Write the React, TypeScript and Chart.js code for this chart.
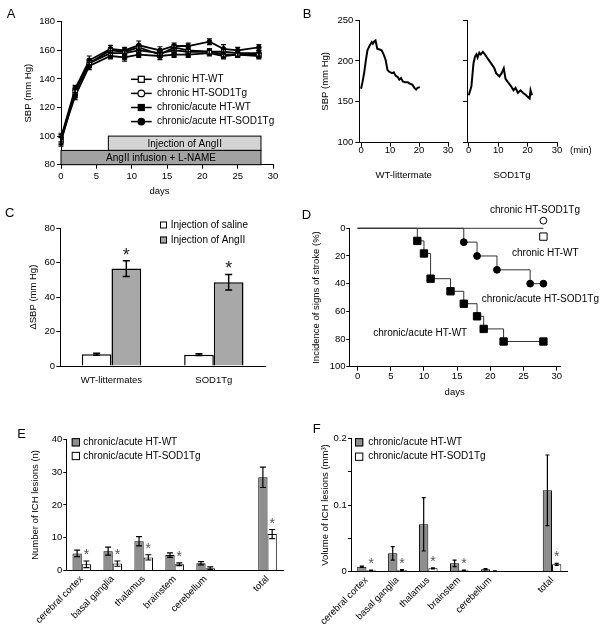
import React, { useEffect, useRef } from 'react';
import { Chart, registerables } from 'chart.js';

Chart.register(...registerables);

const FONT = '"Liberation Sans", Arial, Helvetica, sans-serif';
Chart.defaults.font.family = FONT;
Chart.defaults.font.size = 9.5;
Chart.defaults.color = '#000';

// ---------------- Panel A: SBP time course ----------------
const A_DAYS = [0, 2, 4, 7, 9, 11, 14, 16, 18, 21, 23, 25, 28];
const A_SERIES = ['chronic HT-WT', 'chronic HT-SOD1Tg', 'chronic/acute HT-WT', 'chronic/acute HT-SOD1Tg'];
const A_CHRONIC_WT = [96, 131, 151, 158, 158, 160, 158, 160, 159, 159, 157, 157, 157];
const A_CHRONIC_WT_SEM = [3, 2.5, 3, 2, 2, 2.5, 2, 2, 2, 2, 2, 2, 2];
const A_CHRONIC_TG = [97, 132, 151, 160, 159, 162, 157, 162, 160, 159, 159, 158, 158];
const A_CHRONIC_TG_SEM = [3, 2.5, 2.5, 2, 2, 2, 2, 2, 2, 2, 2, 2, 2];
const A_ACUTE_WT = [98, 128, 149, 156, 155, 157, 156, 157, 157, 158, 156, 157, 156];
const A_ACUTE_WT_SEM = [3, 2.5, 2.5, 2, 2.5, 2, 2.5, 2, 2, 2, 2, 2, 2];
const A_ACUTE_TG = [99, 133, 153, 161, 160, 163.5, 160, 163, 163, 166, 161, 160, 162];
const A_ACUTE_TG_SEM = [3, 2.5, 3, 2.5, 2, 3, 2.5, 2, 2, 2, 3, 2, 2];
const A_PERIOD_LABELS = ['Injection of AngII', 'AngII infusion + L-NAME'];
const A_PERIOD_START = [6.7, 0];
const A_PERIOD_END = [28.3, 28.3];
const A_PERIOD_LOW = [90, 80];
const A_PERIOD_HIGH = [100, 90];

// ---------------- Panel B: acute AngII response ----------------
const B_LABELS = ['WT-littermate', 'SOD1Tg'];
const B_WT_TIME = [0, 0.5, 1.1, 1.6, 2.2, 3.0, 3.7, 4.1, 4.6, 5.0, 5.6, 6.4, 7.1, 7.9, 8.5, 9.1, 9.6, 10.7, 11.3, 11.9, 12.7, 13.2, 13.8, 14.4, 15.2, 16.1, 16.9, 17.7, 18.4, 19.0, 19.5, 20.3];
const B_WT_SBP = [166, 174, 186, 199, 213, 219, 223, 221, 224, 225, 215, 214, 213, 207, 201, 189, 187, 185, 186, 182, 180, 177, 179, 175, 174, 174, 172, 171, 167, 165, 167, 168];
const B_TG_TIME = [0, 0.9, 1.6, 2.1, 2.6, 3.0, 3.6, 4.1, 4.8, 5.5, 6.4, 7.6, 8.7, 9.3, 10.4, 11.2, 11.9, 12.5, 13.3, 14.4, 15.2, 15.9, 16.7, 17.6, 18.4, 19.2, 20.1, 20.7, 21.0, 21.5];
const B_TG_SBP = [158, 169, 197, 205, 208, 204, 210, 208, 211, 208, 203, 197, 191, 185, 181, 185, 191, 178, 174, 169, 164, 167, 161, 164, 161, 159, 156, 154, 164, 158];

// ---------------- Panel C: delta SBP ----------------
const C_GROUPS = ['WT-littermates', 'SOD1Tg'];
const C_SERIES = ['Injection of saline', 'Injection of AngII'];
const C_SALINE = [6.8, 6.6];
const C_SALINE_SEM = [0.6, 0.5];
const C_ANGII = [56.6, 48.7];
const C_ANGII_SEM = [4.6, 4.5];
const C_ANGII_SIG = [true, true];

// ---------------- Panel D: incidence of stroke ----------------
const D_SERIES = ['chronic/acute HT-WT', 'chronic/acute HT-SOD1Tg', 'chronic HT-WT', 'chronic HT-SOD1Tg'];
const D_ACUTE_WT_DAYS = [0, 9, 10, 11, 14, 16, 18, 19, 22, 28];
const D_ACUTE_WT_PCT = [0, 9.1, 18.2, 36.4, 45.5, 54.5, 63.6, 72.7, 81.8, 81.8];
const D_ACUTE_TG_DAYS = [0, 16, 18, 21, 26, 28];
const D_ACUTE_TG_PCT = [0, 10, 20, 30, 40, 40];
const D_CHRONIC_DAYS = [0, 28];
const D_CHRONIC_PCT = [0, 0];
const D_CHRONIC_WT_MARK = [28, 6];
const D_CHRONIC_TG_MARK = [28, -5.5];

// ---------------- Panels E / F: ICH lesions ----------------
const EF_REGIONS = ['cerebral cortex', 'basal ganglia', 'thalamus', 'brainstem', 'cerebellum', '', 'total'];
const EF_SERIES = ['chronic/acute HT-WT', 'chronic/acute HT-SOD1Tg'];
const E_WT = [5.2, 5.9, 8.9, 4.7, 2.2, null, 28.4];
const E_WT_SEM = [1.0, 1.2, 1.4, 0.7, 0.5, null, 3.1];
const E_TG = [1.9, 2.1, 4.0, 1.9, 0.7, null, 11.1];
const E_TG_SEM = [1.0, 0.8, 0.8, 0.4, 0.4, null, 1.4];
const E_SIG = [true, true, true, true, false, false, true];
const F_WT = [0.0075, 0.0275, 0.071, 0.0125, 0.0036, null, 0.122];
const F_WT_SEM = [0.001, 0.01, 0.04, 0.005, 0.001, null, 0.053];
const F_TG = [0.002, 0.0025, 0.005, 0.002, 0.001, null, 0.011];
const F_TG_SEM = [0.0005, 0.0008, 0.0008, 0.0005, 0.0003, null, 0.0015];
const F_SIG = [true, true, true, true, false, false, true];

// ---------------- helpers ----------------
const fix = (size: number) => (s: any) => {
  if (s.isHorizontal()) s.height = size;
  else s.width = size;
  s.paddingTop = 0;
  s.paddingBottom = 0;
  s.paddingLeft = 0;
  s.paddingRight = 0;
};

function lin(o: any) {
  return {
    type: 'linear',
    min: o.min,
    max: o.max,
    reverse: !!o.reverse,
    afterFit: fix(o.size),
    afterBuildTicks: (s: any) => {
      s.ticks = o.ticks.map((v: number) => ({ value: v }));
    },
    grid: { drawOnChartArea: false, drawTicks: true, tickLength: o.tickLength ?? 4, color: '#000', tickColor: '#000', lineWidth: 1 },
    border: { display: true, color: '#000', width: 1 },
    ticks: {
      padding: o.pad ?? 2,
      color: '#000',
      font: { size: 9.5, family: FONT },
      display: o.labels !== false,
      autoSkip: false,
      maxRotation: 0,
      callback: o.cb ?? ((v: any) => String(v)),
    },
    title: o.title
      ? { display: true, text: o.title, color: '#000', font: { size: 9.5, family: FONT }, padding: { top: o.tpad, bottom: o.tpad } }
      : { display: false },
  };
}

function cat(o: any) {
  return {
    type: 'category',
    afterFit: fix(o.size),
    grid: { drawOnChartArea: false, drawTicks: false, color: '#000' },
    border: { display: true, color: '#000', width: 1 },
    ticks: { padding: o.pad, color: '#000', font: { size: 9.5, family: FONT }, autoSkip: false, minRotation: o.rot ?? 0, maxRotation: o.rot ?? 0 },
  };
}

const baseOpts = (padTop: number, padRight: number) => ({
  animation: false,
  responsive: false,
  devicePixelRatio: 1,
  layout: { padding: { top: padTop, right: padRight, left: 0, bottom: 0 } },
  plugins: { legend: { display: false }, tooltip: { enabled: false } },
});

type TextItem = { text: string; x: number; y: number; size?: number; align?: string; base?: string; color?: string };

const textLayer = (items: TextItem[]) => ({
  id: 'textLayer',
  afterDraw(chart: any) {
    const ctx = chart.ctx;
    items.forEach((t) => {
      ctx.save();
      ctx.font = `${t.size || 10}px ${FONT}`;
      ctx.fillStyle = t.color || '#000';
      ctx.textAlign = t.align || 'left';
      ctx.textBaseline = t.base || 'middle';
      ctx.fillText(t.text, t.x, t.y);
      ctx.restore();
    });
  },
});

const errorLayer = (o: { cap: number; width: number; starSize?: number; starColor?: string; starGap?: number }) => ({
  id: 'errorLayer',
  afterDatasetsDraw(chart: any) {
    const ctx = chart.ctx;
    const ys = chart.scales.y;
    chart.data.datasets.forEach((ds: any, di: number) => {
      if (!ds.errors) return;
      const meta = chart.getDatasetMeta(di);
      meta.data.forEach((el: any, i: number) => {
        const raw = ds.data[i];
        const v = raw !== null && typeof raw === 'object' ? raw.y : raw;
        const e = ds.errors[i];
        if (v == null || e == null) return;
        const x = el.x;
        const y1 = ys.getPixelForValue(v + e);
        const y2 = ys.getPixelForValue(v - e);
        const c = o.cap / 2;
        ctx.save();
        ctx.strokeStyle = '#000';
        ctx.lineWidth = o.width;
        ctx.beginPath();
        ctx.moveTo(x, y1);
        ctx.lineTo(x, y2);
        ctx.moveTo(x - c, y1);
        ctx.lineTo(x + c, y1);
        ctx.moveTo(x - c, y2);
        ctx.lineTo(x + c, y2);
        ctx.stroke();
        if (ds.stars && ds.stars[i] && o.starSize) {
          const sz = o.starSize;
          ctx.fillStyle = o.starColor || '#000';
          ctx.font = `${sz}px ${FONT}`;
          ctx.textAlign = 'center';
          ctx.textBaseline = 'alphabetic';
          ctx.fillText('*', x, y1 - (o.starGap || 10) + 0.575 * sz);
        }
        ctx.restore();
      });
    });
  },
});

// draws open markers of datasets flagged "outsideMark" even when they sit above the plot area
const outsideMarks = {
  id: 'outsideMarks',
  afterDatasetsDraw(chart: any) {
    const ctx = chart.ctx;
    chart.data.datasets.forEach((ds: any, di: number) => {
      if (!ds.outsideMark) return;
      chart.getDatasetMeta(di).data.forEach((el: any) => {
        ctx.save();
        ctx.fillStyle = '#fff';
        ctx.strokeStyle = '#000';
        ctx.lineWidth = 1;
        ctx.beginPath();
        ctx.arc(el.x, el.y, ds.outsideMark, 0, Math.PI * 2);
        ctx.fill();
        ctx.stroke();
        ctx.restore();
      });
    });
  },
};

const squareLegend = (rows: { label: string; fill: string; y: number }[], sx: number, size: number, tx: number) => ({
  id: 'squareLegend',
  afterDraw(chart: any) {
    const ctx = chart.ctx;
    rows.forEach((r) => {
      ctx.save();
      ctx.fillStyle = r.fill;
      ctx.fillRect(sx, r.y - size / 2, size, size);
      ctx.strokeStyle = '#000';
      ctx.lineWidth = 1;
      ctx.strokeRect(sx + 0.5, r.y - size / 2 + 0.5, size - 1, size - 1);
      ctx.fillStyle = '#000';
      ctx.font = `10px ${FONT}`;
      ctx.textAlign = 'left';
      ctx.textBaseline = 'middle';
      ctx.fillText(r.label, tx, r.y);
      ctx.restore();
    });
  },
});

// ---------------- chart configs ----------------
function configA() {
  const vals = [A_CHRONIC_WT, A_CHRONIC_TG, A_ACUTE_WT, A_ACUTE_TG];
  const sems = [A_CHRONIC_WT_SEM, A_CHRONIC_TG_SEM, A_ACUTE_WT_SEM, A_ACUTE_TG_SEM];
  const mk = [
    { s: 'rect', f: '#ffffff', r: 3 },
    { s: 'circle', f: '#ffffff', r: 2.3 },
    { s: 'rect', f: '#000000', r: 3 },
    { s: 'circle', f: '#000000', r: 2.3 },
  ];
  const periodLayer = {
    id: 'periodLayer',
    beforeDatasetsDraw(chart: any) {
      const { ctx, scales } = chart;
      const x = scales.x;
      const y = scales.y;
      A_PERIOD_LABELS.forEach((lab, i) => {
        const x1 = x.getPixelForValue(A_PERIOD_START[i]);
        const x2 = x.getPixelForValue(A_PERIOD_END[i]);
        const y1 = y.getPixelForValue(A_PERIOD_HIGH[i]);
        const y2 = y.getPixelForValue(A_PERIOD_LOW[i]);
        ctx.save();
        ctx.fillStyle = i === 0 ? '#d4d4d4' : '#a2a2a2';
        ctx.fillRect(x1, y1, x2 - x1, y2 - y1);
        ctx.strokeStyle = '#000';
        ctx.lineWidth = 1;
        ctx.strokeRect(x1, y1, x2 - x1, y2 - y1);
        ctx.fillStyle = '#000';
        ctx.font = `10px ${FONT}`;
        ctx.textAlign = 'center';
        ctx.textBaseline = 'middle';
        ctx.fillText(lab, (x1 + x2) / 2, (y1 + y2) / 2 + 0.5);
        ctx.restore();
      });
    },
  };
  const legendA = {
    id: 'legendA',
    afterDraw(chart: any) {
      const ctx = chart.ctx;
      A_SERIES.forEach((lab, i) => {
        const y = 79.3 + i * 14.1;
        ctx.save();
        ctx.strokeStyle = '#000';
        ctx.lineWidth = 1.5;
        ctx.beginPath();
        ctx.moveTo(131, y);
        ctx.lineTo(151.7, y);
        ctx.stroke();
        ctx.fillStyle = mk[i].f;
        ctx.lineWidth = 1.2;
        if (mk[i].s === 'rect') {
          ctx.fillRect(138.3, y - 3, 6, 6);
          ctx.strokeRect(138.3, y - 3, 6, 6);
        } else {
          ctx.beginPath();
          ctx.arc(141.3, y, 3.3, 0, Math.PI * 2);
          ctx.fill();
          ctx.stroke();
        }
        ctx.fillStyle = '#000';
        ctx.font = `10px ${FONT}`;
        ctx.textAlign = 'left';
        ctx.textBaseline = 'middle';
        ctx.fillText(lab, 157, y);
        ctx.restore();
      });
    },
  };
  return {
    type: 'line',
    data: {
      datasets: vals.map((v, i) => ({
        label: A_SERIES[i],
        data: A_DAYS.map((d, j) => ({ x: d, y: v[j] })),
        errors: sems[i],
        borderColor: '#000',
        borderWidth: 1.8,
        pointStyle: mk[i].s,
        pointRadius: mk[i].r,
        pointBackgroundColor: mk[i].f,
        pointBorderColor: '#000',
        pointBorderWidth: 1,
        tension: 0,
      })),
    },
    options: {
      ...baseOpts(21.7, 27),
      scales: {
        x: lin({ min: 0, max: 30, ticks: [0, 5, 10, 15, 20, 25, 30], size: 35.3, pad: 2 }),
        y: lin({ min: 80, max: 180, ticks: [80, 100, 120, 140, 160, 180], size: 61, pad: 2, title: 'SBP (mm Hg)', tpad: 22.8 }),
      },
    },
    plugins: [
      periodLayer,
      errorLayer({ cap: 5, width: 1.2 }),
      legendA,
      textLayer([
        { text: 'A', x: 6.7, y: 18.3, size: 13, base: 'alphabetic' },
        { text: 'days', x: 159.5, y: 191, size: 9.5, align: 'center' },
      ]),
    ],
  };
}

function configB(which: number) {
  const t = which === 0 ? B_WT_TIME : B_TG_TIME;
  const v = which === 0 ? B_WT_SBP : B_TG_SBP;
  const items: TextItem[] =
    which === 0
      ? [{ text: 'B', x: 2.7, y: 18.3, size: 13, base: 'alphabetic' }]
      : [{ text: '(min)', x: 115, y: 150.5, size: 9.5 }];
  return {
    type: 'line',
    data: {
      datasets: [
        { label: B_LABELS[which], data: t.map((x, i) => ({ x, y: v[i] })), borderColor: '#000', borderWidth: 2, pointRadius: 0, tension: 0 },
      ],
    },
    options: {
      ...baseOpts(20, which === 0 ? 7 : 44),
      scales: {
        x: lin({ min: -0.6, max: 30, ticks: [0, 10, 20, 30], size: 57.3, pad: -2, title: B_LABELS[which], tpad: 19.3 }),
        y: lin({
          min: 100,
          max: 250,
          ticks: [100, 150, 200, 250],
          size: which === 0 ? 59.3 : 12,
          labels: which === 0,
          pad: 2,
          title: which === 0 ? 'SBP (mm Hg)' : undefined,
          tpad: 19.3,
        }),
      },
    },
    plugins: [textLayer(items)],
  };
}

function configC() {
  return {
    type: 'bar',
    data: {
      labels: C_GROUPS,
      datasets: [
        { label: C_SERIES[0], data: C_SALINE, errors: C_SALINE_SEM, backgroundColor: '#ffffff', borderColor: '#000', borderWidth: 1.5, categoryPercentage: 0.58, barPercentage: 1 },
        { label: C_SERIES[1], data: C_ANGII, errors: C_ANGII_SEM, stars: C_ANGII_SIG, backgroundColor: '#a8a8a8', borderColor: '#000', borderWidth: 1.5, categoryPercentage: 0.58, barPercentage: 1 },
      ],
    },
    options: {
      ...baseOpts(28.3, 35),
      scales: {
        x: cat({ size: 44, pad: 8.3 }),
        y: lin({ min: 0, max: 80, ticks: [0, 20, 40, 60, 80], size: 60.3, pad: 1.3, title: 'ΔSBP (mm Hg)', tpad: 27.3 }),
      },
    },
    plugins: [
      errorLayer({ cap: 7, width: 1.5, starSize: 18, starColor: '#222', starGap: 10.5 }),
      squareLegend(
        [
          { label: C_SERIES[0], fill: '#ffffff', y: 25 },
          { label: C_SERIES[1], fill: '#a8a8a8', y: 40 },
        ],
        160,
        7,
        170.7
      ),
      textLayer([{ text: 'C', x: 5, y: 16.7, size: 13, base: 'alphabetic' }]),
    ],
  };
}

function configD() {
  const toPts = (d: number[], p: number[]) => d.map((x, i) => ({ x, y: p[i] }));
  const hideFirst = (r: number) => (c: any) => (c.dataIndex === 0 ? 0 : r);
  return {
    type: 'line',
    data: {
      datasets: [
        { label: D_SERIES[0], data: toPts(D_ACUTE_WT_DAYS, D_ACUTE_WT_PCT), stepped: true, borderColor: '#333', borderWidth: 1, pointStyle: 'rect', pointRadius: hideFirst(5.2), pointBackgroundColor: '#000', pointBorderColor: '#000', clip: false },
        { label: D_SERIES[1], data: toPts(D_ACUTE_TG_DAYS, D_ACUTE_TG_PCT), stepped: true, borderColor: '#333', borderWidth: 1, pointStyle: 'circle', pointRadius: hideFirst(3.4), pointBackgroundColor: '#000', pointBorderColor: '#000', clip: false },
        { label: D_SERIES[2] + ' / ' + D_SERIES[3], data: toPts(D_CHRONIC_DAYS, D_CHRONIC_PCT), borderColor: '#333', borderWidth: 1, pointRadius: 0, clip: false },
        { label: D_SERIES[2], data: [{ x: D_CHRONIC_WT_MARK[0], y: D_CHRONIC_WT_MARK[1] }], showLine: false, pointStyle: 'rect', pointRadius: 5.2, pointBackgroundColor: '#fff', pointBorderColor: '#000', pointBorderWidth: 1, clip: false },
        { label: D_SERIES[3], data: [{ x: D_CHRONIC_TG_MARK[0], y: D_CHRONIC_TG_MARK[1] }], showLine: false, pointRadius: 0, outsideMark: 3.4, clip: false },
      ],
    },
    options: {
      ...baseOpts(28.3, 41),
      scales: {
        x: lin({ min: -1.25, max: 30.5, ticks: [0, 5, 10, 15, 20, 25, 30], size: 43.3, pad: 0.3, title: 'days', tpad: 11.6 }),
        y: lin({ min: 0, max: 100, reverse: true, ticks: [0, 20, 40, 60, 80, 100], size: 49.3, tickLength: 3, pad: 0.8, title: 'Incidence of signs of stroke (%)', tpad: 11 }),
      },
    },
    plugins: [
      outsideMarks,
      textLayer([
        { text: 'D', x: 1.7, y: 19, size: 13, base: 'alphabetic' },
        { text: D_SERIES[3], x: 190, y: 10.7 },
        { text: D_SERIES[2], x: 212, y: 53.3 },
        { text: D_SERIES[1], x: 181.7, y: 99.3 },
        { text: D_SERIES[0], x: 73.3, y: 133.3 },
      ]),
    ],
  };
}

function configEF(isF: boolean) {
  const wt = isF ? F_WT : E_WT;
  const wtErr = isF ? F_WT_SEM : E_WT_SEM;
  const tg = isF ? F_TG : E_TG;
  const tgErr = isF ? F_TG_SEM : E_TG_SEM;
  const sig = isF ? F_SIG : E_SIG;
  const gray = '#8e8e8e';
  const yAxis = isF
    ? lin({
        min: 0,
        max: 0.2,
        ticks: [0, 0.05, 0.1, 0.15, 0.2],
        cb: (v: any) => (v === 0 ? '0' : v === 0.1 ? '0.1' : v === 0.2 ? '0.2' : ''),
        size: 51,
        tickLength: 3,
        pad: 1.3,
        title: 'Volume of ICH lesions (mm³)',
        tpad: 19.3,
      })
    : lin({ min: 0, max: 40, ticks: [0, 10, 20, 30, 40], size: 66.3, tickLength: 3, pad: 1, title: 'Number of ICH lesions (n)', tpad: 29.3 });
  const sx = isF ? 55 : 71.7;
  const tx = isF ? 68.3 : 83.3;
  const rowY = isF ? [32.3, 46.7] : [32.3, 46];
  return {
    type: 'bar',
    data: {
      labels: EF_REGIONS,
      datasets: [
        { label: EF_SERIES[0], data: wt, errors: wtErr, backgroundColor: gray, borderColor: '#000', borderWidth: 1, categoryPercentage: 0.6, barPercentage: 1 },
        { label: EF_SERIES[1], data: tg, errors: tgErr, stars: sig, backgroundColor: '#ffffff', borderColor: '#000', borderWidth: 1, categoryPercentage: 0.6, barPercentage: 1 },
      ],
    },
    options: {
      ...baseOpts(isF ? 28.3 : 29.3, isF ? 33.5 : 17),
      scales: {
        x: cat({ size: isF ? 61.3 : 62.5, pad: 3, rot: 45 }),
        y: yAxis,
      },
    },
    plugins: [
      errorLayer({ cap: isF ? 4 : 6, width: 1.2, starSize: 14, starColor: '#555', starGap: 10 }),
      squareLegend(
        [
          { label: EF_SERIES[0], fill: gray, y: rowY[0] },
          { label: EF_SERIES[1], fill: '#ffffff', y: rowY[1] },
        ],
        sx,
        8.3,
        tx
      ),
      textLayer([isF ? { text: 'F', x: 12.7, y: 23.3, size: 13, base: 'alphabetic' } : { text: 'E', x: 17.3, y: 28.3, size: 13, base: 'alphabetic' }]),
    ],
  };
}

function Panel({ left, top, width, height, make }: { left: number; top: number; width: number; height: number; make: () => any }) {
  const ref = useRef<HTMLCanvasElement>(null);
  useEffect(() => {
    const chart = new Chart(ref.current as HTMLCanvasElement, make());
    return () => chart.destroy();
  }, []);
  return <canvas ref={ref} width={width} height={height} style={{ position: 'absolute', left, top, width, height, display: 'block' }} />;
}

export default function App() {
  return (
    <div style={{ position: 'absolute', left: 0, top: 0, width: 601, height: 633, background: '#fff', overflow: 'hidden' }}>
      <Panel left={0} top={0} width={300} height={200} make={configA} />
      <Panel left={300} top={0} width={155} height={200} make={() => configB(0)} />
      <Panel left={455} top={0} width={146} height={200} make={() => configB(1)} />
      <Panel left={0} top={200} width={300} height={210} make={configC} />
      <Panel left={300} top={200} width={301} height={210} make={configD} />
      <Panel left={0} top={410} width={300} height={223} make={() => configEF(false)} />
      <Panel left={300} top={410} width={301} height={223} make={() => configEF(true)} />
    </div>
  );
}
